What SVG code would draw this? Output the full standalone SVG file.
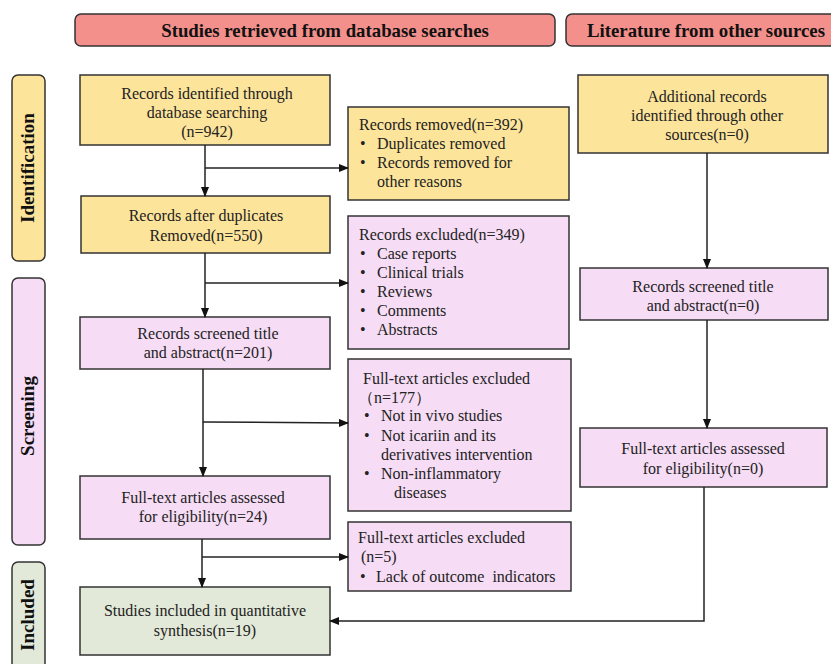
<svg xmlns="http://www.w3.org/2000/svg" width="831" height="664" viewBox="0 0 831 664">
<defs>
<style>
text{font-family:"Liberation Serif","Times New Roman",serif;font-size:16px;fill:#222}
.c{text-anchor:middle}
.h{font-weight:bold;font-size:18.8px;text-anchor:middle;fill:#111}
.side{font-weight:bold;font-size:19px;text-anchor:middle;fill:#111}
.hdr{fill:#f4908b;stroke:#333;stroke-width:1.5}
.y{fill:#fde49b;stroke:#333;stroke-width:1.5}
.p{fill:#f6dcf5;stroke:#333;stroke-width:1.5}
.g{fill:#e2e9d8;stroke:#333;stroke-width:1.5}
.ln{fill:none;stroke:#222;stroke-width:1.5}
</style>
<marker id="ah" markerWidth="10" markerHeight="8" refX="9" refY="4" orient="auto" markerUnits="userSpaceOnUse">
<path d="M0,0 L10,4 L0,8 Z" fill="#111"/>
</marker>
</defs>
<rect width="831" height="664" fill="#fff"/>

<g id="header-db"><rect class="hdr" x="75" y="14" width="480" height="32" rx="6"/><text class="h" x="325" y="36.5">Studies retrieved from database searches</text></g>
<g id="header-other"><rect class="hdr" x="566" y="14" width="275" height="32" rx="6"/><text class="h" x="706" y="36.5">Literature from other sources</text></g>

<g id="side-identification"><rect class="y" x="12" y="75" width="33" height="186" rx="6"/><text class="side" transform="translate(34,168) rotate(-90)">Identification</text></g>
<g id="side-screening"><rect class="p" x="12" y="278" width="33" height="267" rx="6"/><text class="side" transform="translate(34,416) rotate(-90)">Screening</text></g>
<g id="side-included"><rect class="g" x="12" y="562" width="33" height="110" rx="6"/><text class="side" transform="translate(34,615) rotate(-90)">Included</text></g>

<g id="n-identified"><rect class="y" x="80" y="75" width="250" height="70"/>
<text class="c" x="207" y="98.5">Records identified through</text>
<text class="c" x="207" y="117.5">database searching</text>
<text class="c" x="207" y="136.5">(n=942)</text></g>

<g id="n-removed"><rect class="y" x="348" y="107" width="221" height="93"/>
<text x="359" y="130">Records removed(n=392)</text>
<text x="360" y="149">•</text><text x="377" y="149">Duplicates removed</text>
<text x="360" y="168">•</text><text x="377" y="168">Records removed for</text>
<text x="377" y="187">other reasons</text></g>

<g id="n-after-dup"><rect class="y" x="81" y="196" width="249" height="57"/>
<text class="c" x="206" y="220.5">Records after duplicates</text>
<text class="c" x="206" y="240.5">Removed(n=550)</text></g>

<g id="n-excluded349"><rect class="p" x="348" y="216" width="221" height="133"/>
<text x="359" y="240">Records excluded(n=349)</text>
<text x="360" y="259">•</text><text x="377" y="259">Case reports</text>
<text x="360" y="278">•</text><text x="377" y="278">Clinical trials</text>
<text x="360" y="297">•</text><text x="377" y="297">Reviews</text>
<text x="360" y="316">•</text><text x="377" y="316">Comments</text>
<text x="360" y="335">•</text><text x="377" y="335">Abstracts</text></g>

<g id="n-screened"><rect class="p" x="80" y="317" width="250" height="52"/>
<text class="c" x="208" y="338.5">Records screened title</text>
<text class="c" x="208" y="357.5">and abstract(n=201)</text></g>

<g id="n-excluded177"><rect class="p" x="348" y="359" width="223" height="152"/>
<text x="363" y="384">Full-text articles excluded</text>
<text x="358" y="403">（n=177）</text>
<text x="364" y="421">•</text><text x="381" y="421">Not in vivo studies</text>
<text x="364" y="441">•</text><text x="381" y="441">Not icariin and its</text>
<text x="381" y="460">derivatives intervention</text>
<text x="364" y="479">•</text><text x="381" y="479">Non-inflammatory</text>
<text x="394" y="498">diseases</text></g>

<g id="n-assessed"><rect class="p" x="80" y="476" width="250" height="63"/>
<text class="c" x="203" y="502.5">Full-text articles assessed</text>
<text class="c" x="203" y="521.5">for eligibility(n=24)</text></g>

<g id="n-excluded5"><rect class="p" x="348" y="522" width="223" height="69"/>
<text x="358" y="543">Full-text articles excluded</text>
<text x="361" y="562">(n=5)</text>
<text x="360" y="582">•</text><text x="376" y="582" xml:space="preserve">Lack of outcome  indicators</text></g>

<g id="n-included"><rect class="g" x="80" y="587" width="250" height="68"/>
<text class="c" x="205" y="615.5">Studies included in quantitative</text>
<text class="c" x="205" y="635.5">synthesis(n=19)</text></g>

<g id="n-additional"><rect class="y" x="578" y="75" width="250" height="78"/>
<text class="c" x="707" y="102">Additional records</text>
<text class="c" x="707" y="121">identified through other</text>
<text class="c" x="707" y="140">sources(n=0)</text></g>

<g id="n-screened-other"><rect class="p" x="580" y="268" width="248" height="52"/>
<text class="c" x="703" y="291.5">Records screened title</text>
<text class="c" x="703" y="310.5">and abstract(n=0)</text></g>

<g id="n-assessed-other"><rect class="p" x="580" y="428" width="247" height="59"/>
<text class="c" x="703" y="453.5">Full-text articles assessed</text>
<text class="c" x="703" y="473.5">for eligibility(n=0)</text></g>

<g id="connectors">
<line class="ln" x1="205" y1="145" x2="205" y2="196" marker-end="url(#ah)"/>
<line class="ln" x1="205" y1="168" x2="348" y2="168" marker-end="url(#ah)"/>
<line class="ln" x1="205" y1="253" x2="205" y2="317" marker-end="url(#ah)"/>
<line class="ln" x1="205" y1="283" x2="348" y2="283" marker-end="url(#ah)"/>
<line class="ln" x1="203" y1="369" x2="203" y2="476" marker-end="url(#ah)"/>
<line class="ln" x1="203" y1="422" x2="348" y2="423" marker-end="url(#ah)"/>
<line class="ln" x1="202" y1="539" x2="202" y2="587" marker-end="url(#ah)"/>
<line class="ln" x1="202" y1="557" x2="348" y2="557" marker-end="url(#ah)"/>
<line class="ln" x1="707" y1="153" x2="707" y2="268" marker-end="url(#ah)"/>
<line class="ln" x1="707" y1="320" x2="707" y2="428" marker-end="url(#ah)"/>
<polyline class="ln" points="704,487 704,621 330,621" marker-end="url(#ah)"/>
</g>
</svg>
